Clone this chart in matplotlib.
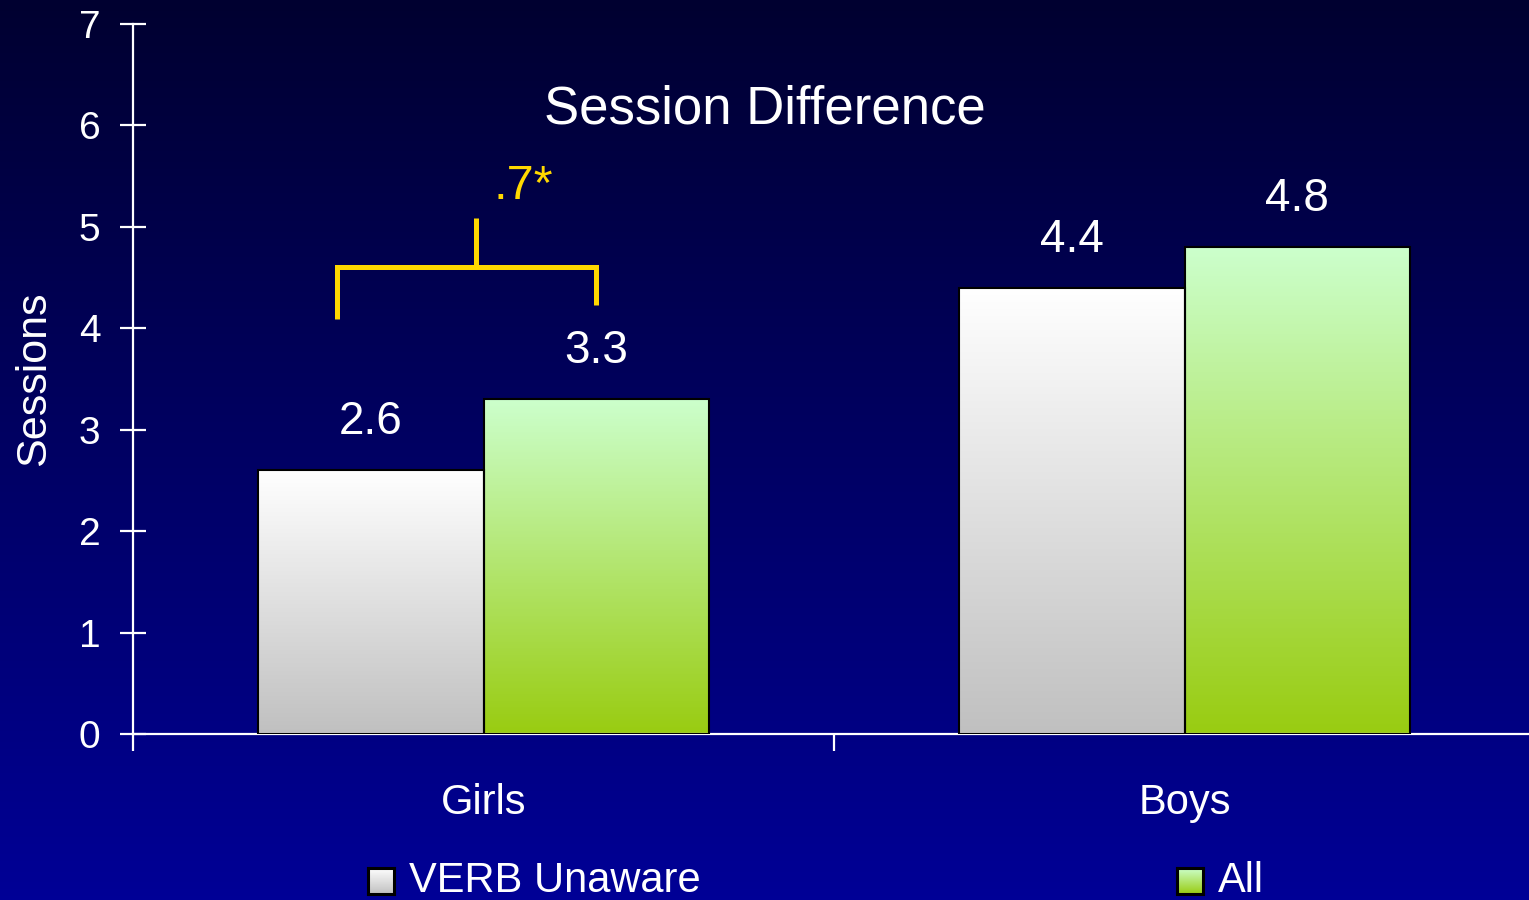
import numpy as np
import matplotlib
matplotlib.use("Agg")
import matplotlib.pyplot as plt
from matplotlib.colors import LinearSegmentedColormap

# Average sessions by group
categories = ["Girls", "Boys"]
series_names = ["VERB Unaware", "All"]
verb_unaware = [2.6, 4.4]
all_kids = [3.3, 4.8]
y_ticks = [0, 1, 2, 3, 4, 5, 6, 7]

plt.rcParams["font.family"] = ["Liberation Sans", "DejaVu Sans"]

W, H = 1529, 900
fig = plt.figure(figsize=(W / 100, H / 100), dpi=100)

# Background: vertical navy-to-blue gradient
bg = fig.add_axes([0, 0, 1, 1], zorder=-10)
grad = np.linspace(0, 1, 256).reshape(-1, 1)
bg_cmap = LinearSegmentedColormap.from_list("bg", ["#000030", "#000096"])
bg.imshow(grad, cmap=bg_cmap, aspect="auto", extent=[0, 1, 0, 1], origin="upper")
bg.set_axis_off()

left_px, zero_px, top_px = 133, 734, 24
cat_px = 701
ax = fig.add_axes([left_px / W, (H - zero_px) / H, 2 * cat_px / W, (zero_px - top_px) / H])
ax.patch.set_visible(False)

white_cmap = LinearSegmentedColormap.from_list("w", ["#ffffff", "#c0c0c0"])
green_cmap = LinearSegmentedColormap.from_list("g", ["#ccffcc", "#99cc11"])

x = np.arange(len(categories))
bw = 0.322
bars_u = ax.bar(x - bw / 2, verb_unaware, bw, facecolor="none", edgecolor="black", linewidth=1.5, zorder=3)
bars_a = ax.bar(x + bw / 2, all_kids, bw, facecolor="none", edgecolor="black", linewidth=1.5, zorder=3)

vgrad = np.linspace(0, 1, 256).reshape(-1, 1)
for bars, cmap in ((bars_u, white_cmap), (bars_a, green_cmap)):
    for b in bars:
        x0, y0 = b.get_x(), b.get_y()
        ax.imshow(vgrad, cmap=cmap, aspect="auto", origin="upper",
                  extent=[x0, x0 + b.get_width(), y0, y0 + b.get_height()], zorder=2)
ax.set_xlim(-0.5, 1.5)
ax.set_ylim(0, 7)

# Value labels above each bar
for bars, vals in ((bars_u, verb_unaware), (bars_a, all_kids)):
    for b, v in zip(bars, vals):
        ax.annotate(f"{v:.1f}", (b.get_x() + b.get_width() / 2, b.get_height()),
                    xytext=(0, 26), textcoords="offset points", ha="center", va="baseline",
                    color="white", fontsize=33)

# Axes styling
for s in ("top", "right"):
    ax.spines[s].set_visible(False)
for s in ("left", "bottom"):
    ax.spines[s].set_color("white")
    ax.spines[s].set_linewidth(1.6)
ax.set_yticks(y_ticks)
ax.set_yticklabels([str(t) for t in y_ticks])
ax.tick_params(axis="y", direction="inout", length=19, width=1.6, colors="white",
               labelsize=28, pad=14)
ax.set_xticks(x)
ax.set_xticklabels(categories)
ax.tick_params(axis="x", which="major", length=0, colors="white", labelsize=30, pad=35)
ax.set_xticks([-0.5, 0.5, 1.5], minor=True)
ax.tick_params(axis="x", which="minor", direction="out", length=12, width=1.6, color="white")
ax.set_ylabel("Sessions", color="white", fontsize=31, labelpad=18)

# Significance bracket between the Girls bars
yellow = "#ffd800"
gx_u = bars_u[0].get_x() + bars_u[0].get_width() / 2
gx_a = bars_a[0].get_x() + bars_a[0].get_width() / 2
bx_l, bx_r = gx_u - 0.048, gx_a
by = all_kids[0] + 1.3
ax.plot([bx_l, bx_l, bx_r, bx_r], [by - 0.51, by, by, by - 0.37],
        color=yellow, linewidth=3.6, solid_capstyle="butt", solid_joinstyle="miter", zorder=4,
        clip_on=False)
bx_m = (bx_l + bx_r) / 2 + 0.014
ax.plot([bx_m, bx_m], [by, by + 0.49], color=yellow, linewidth=3.6, solid_capstyle="butt",
        zorder=4, clip_on=False)
diff = all_kids[0] - verb_unaware[0]
ax.text(bx_m + 0.067, by + 0.67, f"{diff:.1f}".lstrip("0") + "*", color=yellow,
        fontsize=35, ha="center", va="baseline")

# Title
fig.text(765 / W, (H - 124) / H, "Session Difference", color="white", fontsize=38,
         ha="center", va="baseline")

# Legend along the bottom edge
legend_items = [(368, white_cmap), (1177, green_cmap)]
for (px, cmap), name in zip(legend_items, series_names):
    lax = fig.add_axes([px / W, (H - 894) / H, 26 / W, 26 / H])
    lax.imshow(vgrad, cmap=cmap, aspect="auto", origin="upper", extent=[0, 1, 0, 1])
    lax.set_xticks([])
    lax.set_yticks([])
    for s in lax.spines.values():
        s.set_color("black")
        s.set_linewidth(2.2)
    fig.text((px + 41) / W, (H - 892) / H, name, color="white", fontsize=30,
             ha="left", va="baseline")

fig.savefig("out.png", dpi=100)
